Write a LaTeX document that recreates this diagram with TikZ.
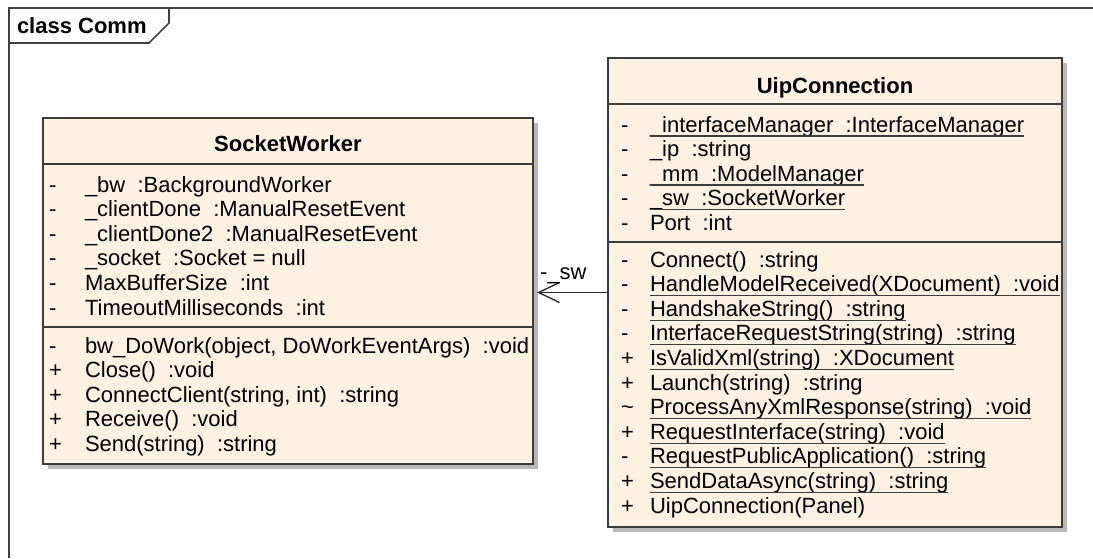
\documentclass[tikz,border=0pt]{standalone}
\usepackage{fontspec}
\setmainfont{Liberation Sans}
\usetikzlibrary{arrows.meta,fit,shadows,calc}
\definecolor{classfill}{RGB}{252,241,227}
\definecolor{edgegray}{RGB}{60,60,60}
\begin{document}
\begin{tikzpicture}[x=0.75pt,y=-0.75pt,
  every node/.style={inner sep=0pt, outer sep=0pt, font=\fontsize{16.5pt}{19pt}\selectfont},
  classbox/.style={draw=edgegray, line width=1.1pt, fill=classfill,
    drop shadow={shadow xshift=3.5pt, shadow yshift=-3.5pt, fill=black!28, opacity=1}},
  classtitle/.style={anchor=base, font=\fontsize{16.5pt}{19pt}\selectfont\bfseries},
  vis/.style={anchor=base west},
  member/.style={anchor=base west},
  static/.style={member, append after command={
    ([yshift=-3pt]\tikzlastnode.base west) edge[draw=edgegray, line width=0.9pt]
    ([yshift=-3pt]\tikzlastnode.base east)}},
  compsep/.style={draw=edgegray, line width=1.1pt},
  frameline/.style={draw=black!75, line width=1.2pt},
  assoc/.style={draw=black!85, line width=1pt,
    -{Straight Barb[length=15.75pt, width=15pt, line width=1pt]}},
]
\useasboundingbox (0,0) rectangle (1093,558);

% diagram frame with its name tab
\draw[frameline] (9,558) -- (9,8) -- (1093,8);
\draw[frameline] (9,43) -- (149,43) -- (169,23) -- (169,8);
\node[anchor=base west, font=\fontsize{16.5pt}{19pt}\selectfont\bfseries] (frametitle) at (17,33) {class Comm};

% ---------------- SocketWorker ----------------
\node[classbox, fit={(43,118) (533,464)}] (sock) {};
\draw[compsep] (43,164) -- (533,164);
\draw[compsep] (43,327) -- (533,327);
\node[classtitle] (socktitle) at (288,151) {SocketWorker};

\node[vis] (sa1v) at (49,192)   {-};
\node[member] (sa1) at (85,192)   {\_bw\ \ :BackgroundWorker};
\node[vis] (sa2v) at (49,216.6) {-};
\node[member] (sa2) at (85,216.6) {\_clientDone\ \ :ManualResetEvent};
\node[vis] (sa3v) at (49,241.2) {-};
\node[member] (sa3) at (85,241.2) {\_clientDone2\ \ :ManualResetEvent};
\node[vis] (sa4v) at (49,265.8) {-};
\node[member] (sa4) at (85,265.8) {\_socket\ \ :Socket = null};
\node[vis] (sa5v) at (49,290.4) {-};
\node[member] (sa5) at (85,290.4) {MaxBufferSize\ \ :int};
\node[vis] (sa6v) at (49,315)   {-};
\node[member] (sa6) at (85,315)   {TimeoutMilliseconds\ \ :int};

\node[vis] (so1v) at (49,353)   {-};
\node[member] (so1) at (85,353)   {bw\_DoWork(object, DoWorkEventArgs)\ \ :void};
\node[vis] (so2v) at (49,377.6) {+};
\node[member] (so2) at (85,377.6) {Close()\ \ :void};
\node[vis] (so3v) at (49,402.2) {+};
\node[member] (so3) at (85,402.2) {ConnectClient(string, int)\ \ :string};
\node[vis] (so4v) at (49,426.8) {+};
\node[member] (so4) at (85,426.8) {Receive()\ \ :void};
\node[vis] (so5v) at (49,451.4) {+};
\node[member] (so5) at (85,451.4) {Send(string)\ \ :string};

% ---------------- UipConnection ----------------
\node[classbox, fit={(608,58) (1062,527)}] (uip) {};
\draw[compsep] (608,104) -- (1062,104);
\draw[compsep] (608,242) -- (1062,242);
\node[classtitle] (uiptitle) at (835,93) {UipConnection};

\node[vis] (ua1v) at (621,132)   {-};
\node[static] (ua1) at (650,132)   {\_interfaceManager\ \ :InterfaceManager};
\node[vis] (ua2v) at (621,156.5) {-};
\node[member] (ua2) at (650,156.5) {\_ip\ \ :string};
\node[vis] (ua3v) at (621,181)   {-};
\node[static] (ua3) at (650,181)   {\_mm\ \ :ModelManager};
\node[vis] (ua4v) at (621,205.5) {-};
\node[static] (ua4) at (650,205.5) {\_sw\ \ :SocketWorker};
\node[vis] (ua5v) at (621,230)   {-};
\node[member] (ua5) at (650,230)   {Port\ \ :int};

\node[vis] (uo1v)  at (621,267)   {-};
\node[member] (uo1)  at (650,267)   {Connect()\ \ :string};
\node[vis] (uo2v)  at (621,291.6) {-};
\node[static] (uo2)  at (650,291.6) {HandleModelReceived(XDocument)\ \ :void};
\node[vis] (uo3v)  at (621,316.2) {-};
\node[static] (uo3)  at (650,316.2) {HandshakeString()\ \ :string};
\node[vis] (uo4v)  at (621,340.8) {-};
\node[static] (uo4)  at (650,340.8) {InterfaceRequestString(string)\ \ :string};
\node[vis] (uo5v)  at (621,365.4) {+};
\node[static] (uo5)  at (650,365.4) {IsValidXml(string)\ \ :XDocument};
\node[vis] (uo6v)  at (621,390)   {+};
\node[member] (uo6)  at (650,390)   {Launch(string)\ \ :string};
\node[vis] (uo7v)  at (621,414.6) {\textasciitilde};
\node[static] (uo7)  at (650,414.6) {ProcessAnyXmlResponse(string)\ \ :void};
\node[vis] (uo8v)  at (621,439.2) {+};
\node[static] (uo8)  at (650,439.2) {RequestInterface(string)\ \ :void};
\node[vis] (uo9v)  at (621,463.8) {-};
\node[static] (uo9)  at (650,463.8) {RequestPublicApplication()\ \ :string};
\node[vis] (uo10v) at (621,488.4) {+};
\node[static] (uo10) at (650,488.4) {SendDataAsync(string)\ \ :string};
\node[vis] (uo11v) at (621,513)   {+};
\node[member] (uo11) at (650,513)   {UipConnection(Panel)};

% association UipConnection -> SocketWorker
\draw[assoc] (uip.west) -- ($(sock.east |- uip.west)+(4,0)$);
\node[anchor=base west] (assoclabel) at (540,279) {-\_sw};

\end{tikzpicture}
\end{document}
